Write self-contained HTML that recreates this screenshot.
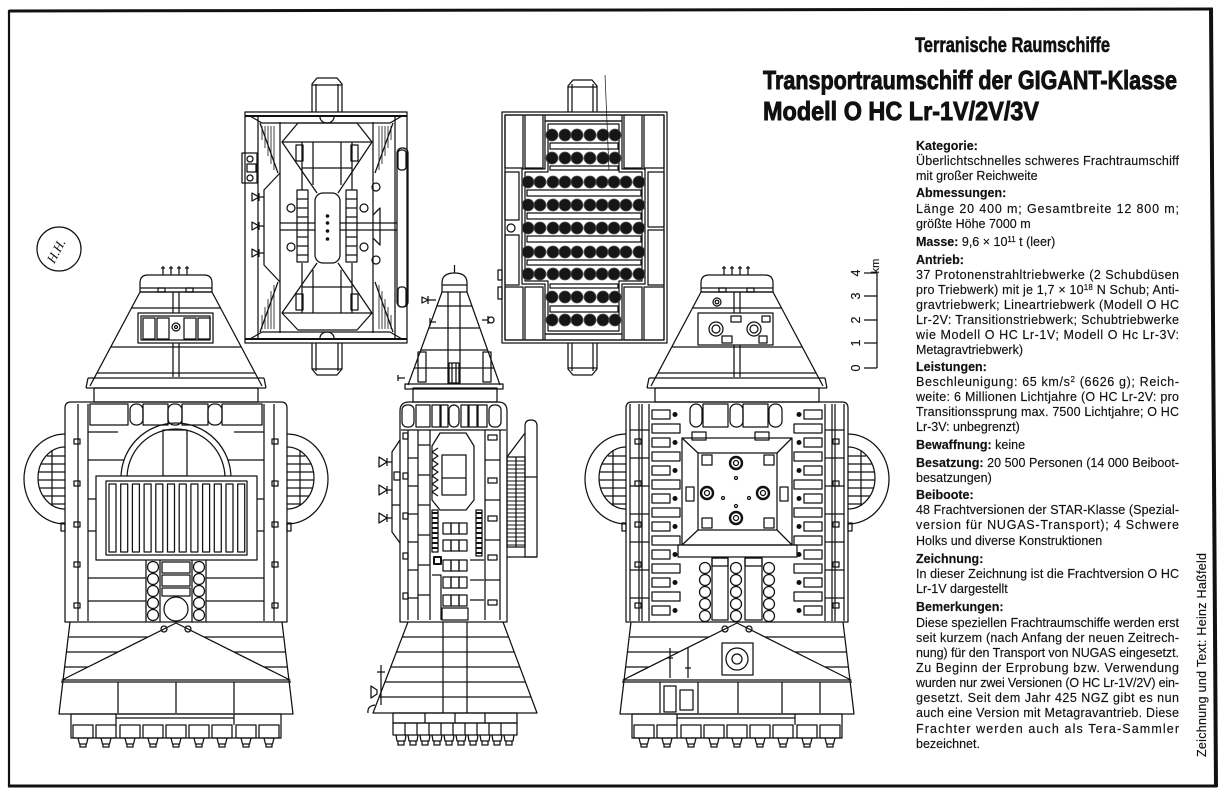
<!DOCTYPE html>
<html><head><meta charset="utf-8"><style>
html,body{margin:0;padding:0;background:#fff;}
svg{display:block;}
.t{font-family:"Liberation Sans",Arial,sans-serif;font-size:12.5px;fill:#111;stroke:#111;stroke-width:0.15;}
.b{font-weight:bold;}
.h{font-family:"Liberation Sans Narrow","Liberation Sans",sans-serif;font-weight:bold;fill:#111;stroke:#111;}
</style></head><body>
<svg width="1224" height="797" viewBox="0 0 1224 797" xmlns="http://www.w3.org/2000/svg">
<rect width="1224" height="797" fill="#fff"/>
<defs>
<g id="ring">
<path d="M-111 434A41 45 0 0 0 -111 524"/>
<path d="M-111 447A27 31 0 0 0 -111 509"/>
<path d="M-129 456H-111M-135 464H-111M-137.5 472H-111M-138 480H-111M-136.5 488H-111M-133 496H-111M-125 504H-111M-124 450V506"/>
</g>
<g id="shell">
<path d="M-13 275V266M-5 275V266M3 275V266M11 275V266M-15 268h4M-7 268h4M1 268h4M9 268h4"/>
<path d="M-36 292V283Q-36 275 -28 275H28Q36 275 36 283V292Z"/>
<path d="M-36 288H36"/>
<rect x="-18" y="288" width="7" height="4"/><rect x="10" y="288" width="7" height="4"/>
<path d="M-36 292L-86 386M36 292L86 386"/>
<path d="M-36 292H36M-44.5 308H44.5M-65 347H65M-79 373H79"/>
<path d="M-3 292V377M3 292V377"/>
<path d="M-88 378H88M-90 388H90M-88 378L-90 388M88 378L90 388"/>
<rect x="-82" y="388" width="164" height="14"/>
<path d="M-111 622V408Q-111 402 -105 402H105Q111 402 111 408V622Z"/>
<path d="M-98 404V621M-88 404V621M88 404V621M98 404V621"/>
<rect x="-102" y="439" width="6" height="5"/><rect x="-102" y="481" width="6" height="5"/><rect x="-102" y="522" width="6" height="5"/><rect x="-102" y="562" width="6" height="5"/><rect x="-102" y="603" width="6" height="5"/>
<rect x="96" y="439" width="6" height="5"/><rect x="96" y="481" width="6" height="5"/><rect x="96" y="522" width="6" height="5"/><rect x="96" y="562" width="6" height="5"/><rect x="96" y="603" width="6" height="5"/>
<rect x="-115" y="523" width="4" height="8"/><rect x="111" y="523" width="4" height="8"/>
<use href="#ring"/>
<use href="#ring" transform="scale(-1,1)"/>
<path d="M-106 622L-117 714H117L106 622"/>
<path d="M-107 637H107M-109 652H109M-111 667H111M-115 682H115"/>
<path d="M-114 680L0 623L114 680Z" fill="#fff"/>
<circle cx="-12" cy="629" r="3"/><circle cx="12" cy="629" r="3"/>
<rect x="-105" y="714" width="210" height="24"/>
<path d="M-60 714V725M58 714V725M-60 718H58"/>
<rect x="-103" y="725" width="20" height="13"/><rect x="-80" y="725" width="20" height="13"/><rect x="-56" y="725" width="20" height="13"/><rect x="-33" y="725" width="20" height="13"/><rect x="-10" y="725" width="20" height="13"/><rect x="13" y="725" width="20" height="13"/><rect x="36" y="725" width="20" height="13"/><rect x="60" y="725" width="20" height="13"/><rect x="83" y="725" width="20" height="13"/>
<path d="M-98 738L-96.5 744H-89.5L-88 738M-96 744V747H-90V744M-75 738L-73.5 744H-66.5L-65 738M-73 744V747H-67V744M-51 738L-49.5 744H-42.5L-41 738M-49 744V747H-43V744M-28 738L-26.5 744H-19.5L-18 738M-26 744V747H-20V744M-5 738L-3.5 744H3.5L5 738M-3 744V747H3V744M18 738L19.5 744H26.5L28 738M20 744V747H26V744M41 738L42.5 744H49.5L51 738M43 744V747H49V744M65 738L66.5 744H73.5L75 738M67 744V747H73V744M88 738L89.5 744H96.5L98 738M90 744V747H96V744"/>
</g>
</defs>

<g fill="none" stroke="#111" stroke-width="1.25" stroke-linejoin="round">
<!-- borders -->
<line x1="9" y1="11" x2="1213" y2="9" stroke-width="3"/>
<line x1="9" y1="10" x2="9" y2="787" stroke-width="2.2"/>
<line x1="8" y1="786" x2="1217" y2="786" stroke-width="3"/>
<line x1="1211" y1="8" x2="1216" y2="787" stroke-width="4"/>

<!-- signature -->
<circle cx="59" cy="249" r="22"/>

<!-- LEFT SHIP (front) -->
<g transform="translate(176,0)">
<use href="#shell"/>
<rect x="-38" y="313" width="75" height="30" fill="#fff"/>
<rect x="-35" y="316" width="69" height="24"/>
<rect x="-33" y="318" width="12" height="21"/><rect x="-19" y="318" width="12" height="21"/>
<rect x="8" y="318" width="12" height="21"/><rect x="22" y="318" width="12" height="21"/>
<circle cx="0" cy="327" r="4"/><circle cx="0" cy="327" r="1.5"/>
<rect x="-86" y="404" width="38" height="21"/>
<rect x="-46" y="404" width="13" height="21" rx="6"/>
<rect x="-33" y="404" width="25" height="21"/>
<rect x="-8" y="404" width="14" height="21" rx="6"/>
<rect x="6" y="404" width="26" height="21"/>
<rect x="32" y="404" width="14" height="21" rx="6"/>
<rect x="46" y="404" width="40" height="21"/>
<path d="M-55 478A55 55 0 0 1 55 478"/>
<path d="M-49 478A49 49 0 0 1 49 478"/>
<rect x="-13" y="430" width="24" height="46"/>
<path d="M-88 432H-58M58 432H88M-88 460H-52M52 460H88M-88 578H-30M30 578H88M-88 601H-30M30 601H88M-88 499H-80M80 499H88M-88 531H-80M80 531H88"/>
<rect x="-80" y="476" width="161" height="84" fill="#fff"/>
<rect x="-70" y="481" width="141" height="74"/>
<rect x="-67" y="484" width="7" height="68"/><rect x="-55.3" y="484" width="7" height="68"/><rect x="-43.6" y="484" width="7" height="68"/><rect x="-31.9" y="484" width="7" height="68"/><rect x="-20.2" y="484" width="7" height="68"/><rect x="-8.5" y="484" width="7" height="68"/><rect x="3.2" y="484" width="7" height="68"/><rect x="14.9" y="484" width="7" height="68"/><rect x="26.6" y="484" width="7" height="68"/><rect x="38.3" y="484" width="7" height="68"/><rect x="50" y="484" width="7" height="68"/><rect x="61.7" y="484" width="7" height="68"/>
<path d="M-30 560V622M-16 560V622M16 560V622M30 560V622"/>
<circle cx="-23" cy="567" r="5.5"/><circle cx="-23" cy="579" r="5.5"/><circle cx="-23" cy="591" r="5.5"/><circle cx="-23" cy="603" r="5.5"/><circle cx="-23" cy="615" r="5.5"/>
<circle cx="23" cy="567" r="5.5"/><circle cx="23" cy="579" r="5.5"/><circle cx="23" cy="591" r="5.5"/><circle cx="23" cy="603" r="5.5"/><circle cx="23" cy="615" r="5.5"/>
<rect x="-14" y="562" width="28" height="11"/><rect x="-14" y="575" width="28" height="11"/><rect x="-14" y="588" width="28" height="8"/>
<circle cx="0" cy="609" r="12"/>
<path d="M-58 682V713M0 682V713M58 682V713"/>
</g>

<!-- RIGHT SHIP (back) -->
<g transform="translate(737,0)">
<use href="#shell"/>
<circle cx="-20" cy="302" r="4"/><circle cx="-20" cy="302" r="1.8"/>
<rect x="-39" y="313" width="75" height="32" fill="#fff"/>
<circle cx="-21" cy="329" r="7"/><circle cx="-21" cy="329" r="4"/>
<circle cx="17" cy="329" r="7"/><circle cx="17" cy="329" r="4"/>
<rect x="-6" y="316" width="10" height="6"/><rect x="25" y="316" width="8" height="6"/><rect x="-15" y="336" width="10" height="7"/><rect x="22" y="336" width="8" height="7"/>
<path d="M-107 404V621M-95 404V621M95 404V621M107 404V621"/>
<path d="M-107 430H-88M-107 458H-88M-107 486H-88M-107 514H-88M-107 542H-88M-107 570H-88M-107 598H-88M88 430H107M88 458H107M88 486H107M88 514H107M88 542H107M88 570H107M88 598H107"/>
<rect x="-47" y="404" width="12" height="23" rx="6"/><rect x="-34" y="404" width="25" height="23"/><rect x="-7" y="404" width="13" height="23" rx="6"/><rect x="6" y="404" width="25" height="23"/><rect x="32" y="404" width="13" height="23" rx="6"/>
<g>
<rect x="-85" y="410" width="18" height="9"/><rect x="-85" y="424" width="28" height="9"/>
<rect x="-85" y="438" width="18" height="9"/><rect x="-85" y="452" width="28" height="9"/>
<rect x="-85" y="466" width="18" height="9"/><rect x="-85" y="480" width="28" height="9"/>
<rect x="-85" y="494" width="18" height="9"/><rect x="-85" y="508" width="28" height="9"/>
<rect x="-85" y="522" width="18" height="9"/><rect x="-85" y="536" width="28" height="9"/>
<rect x="-85" y="550" width="18" height="9"/><rect x="-85" y="564" width="28" height="9"/>
<rect x="-85" y="578" width="18" height="9"/><rect x="-85" y="592" width="28" height="9"/>
<rect x="-85" y="606" width="18" height="9"/>
<rect x="67" y="410" width="18" height="9"/><rect x="57" y="424" width="28" height="9"/>
<rect x="67" y="438" width="18" height="9"/><rect x="57" y="452" width="28" height="9"/>
<rect x="67" y="466" width="18" height="9"/><rect x="57" y="480" width="28" height="9"/>
<rect x="67" y="494" width="18" height="9"/><rect x="57" y="508" width="28" height="9"/>
<rect x="67" y="522" width="18" height="9"/><rect x="57" y="536" width="28" height="9"/>
<rect x="67" y="550" width="18" height="9"/><rect x="57" y="564" width="28" height="9"/>
<rect x="67" y="578" width="18" height="9"/><rect x="57" y="592" width="28" height="9"/>
<rect x="67" y="606" width="18" height="9"/>
</g>
<g fill="#111" stroke="none">
<circle cx="-62" cy="414.5" r="2.5"/><circle cx="-62" cy="442.5" r="2.5"/><circle cx="-62" cy="470.5" r="2.5"/><circle cx="-62" cy="498.5" r="2.5"/><circle cx="-62" cy="526.5" r="2.5"/><circle cx="-62" cy="554.5" r="2.5"/><circle cx="-62" cy="582.5" r="2.5"/><circle cx="-62" cy="610.5" r="2.5"/>
<circle cx="62" cy="414.5" r="2.5"/><circle cx="62" cy="442.5" r="2.5"/><circle cx="62" cy="470.5" r="2.5"/><circle cx="62" cy="498.5" r="2.5"/><circle cx="62" cy="526.5" r="2.5"/><circle cx="62" cy="554.5" r="2.5"/><circle cx="62" cy="582.5" r="2.5"/><circle cx="62" cy="610.5" r="2.5"/>
</g>
<rect x="-45" y="432" width="14" height="8"/><rect x="18" y="432" width="14" height="8"/>
<rect x="-55" y="438" width="110" height="107"/>
<rect x="-39" y="453" width="79" height="77"/>
<path d="M-55 438L-39 453M55 438L40 453M-55 545L-39 530M55 545L40 530"/>
<rect x="-35" y="455" width="10" height="10"/><rect x="27" y="455" width="10" height="10"/><rect x="-35" y="518" width="10" height="10"/><rect x="27" y="518" width="10" height="10"/>
<rect x="-51" y="487" width="8" height="14"/><rect x="43" y="487" width="8" height="14"/>
<g stroke-width="2.4"><circle cx="-1" cy="463" r="6"/><circle cx="-30" cy="493" r="6"/><circle cx="26" cy="493" r="6"/><circle cx="-1" cy="518" r="6"/></g>
<circle cx="-1" cy="463" r="2.5"/><circle cx="-30" cy="493" r="2.5"/><circle cx="26" cy="493" r="2.5"/><circle cx="-1" cy="518" r="2.5"/>
<circle cx="-1" cy="478" r="1.5"/><circle cx="-14" cy="498" r="1.5"/><circle cx="12" cy="498" r="1.5"/><circle cx="-1" cy="506" r="1.5"/>
<rect x="-59" y="545" width="119" height="12"/>
<rect x="-25" y="558" width="16" height="62"/><rect x="8" y="558" width="17" height="62"/>
<rect x="-25" y="558" width="16" height="8"/><rect x="8" y="558" width="17" height="8"/>
<circle cx="-32" cy="568" r="5.5"/><circle cx="-32" cy="580" r="5.5"/><circle cx="-32" cy="592" r="5.5"/><circle cx="-32" cy="604" r="5.5"/><circle cx="-32" cy="616" r="5.5"/>
<circle cx="-1" cy="568" r="5.5"/><circle cx="-1" cy="580" r="5.5"/><circle cx="-1" cy="592" r="5.5"/><circle cx="-1" cy="604" r="5.5"/><circle cx="-1" cy="616" r="5.5"/>
<circle cx="32" cy="568" r="5.5"/><circle cx="32" cy="580" r="5.5"/><circle cx="32" cy="592" r="5.5"/><circle cx="32" cy="604" r="5.5"/><circle cx="32" cy="616" r="5.5"/>
<rect x="-15" y="643" width="31" height="32"/><circle cx="0" cy="659" r="11"/><circle cx="0" cy="659" r="5"/>
<path d="M-67 648V678M-49 648V678M-70 658H-64M-52 668H-46"/>
<path d="M-77 682V713M-39 682V713M1 682V713M45 682V713M83 682V713"/>
<rect x="-73" y="686" width="12" height="26"/><rect x="-57" y="690" width="13" height="20"/>
</g>

<!-- MIDDLE SIDE VIEW -->
<path d="M442 292V283Q442 273 454.5 273Q467 273 467 283V292"/>
<path d="M454.5 273V265M442 285H467"/>
<path d="M442 292L408 385M467 292L500 385M442 292H467"/>
<rect x="405" y="384" width="98" height="5"/>
<path d="M448 292V384M460 292V384"/>
<path d="M437 306H472M429 328H479M421 350H488M414 368H494"/>
<rect x="418" y="352" width="8" height="30"/><rect x="483" y="352" width="8" height="30"/>
<rect x="449" y="363" width="10" height="20"/><path d="M452 363V383M456 363V383"/>
<path d="M436 300H428M428 296V304M428 300L422 297V303Z"/>
<path d="M482 320H488M488 316V324"/><circle cx="491" cy="320" r="3"/>
<path d="M436 322H430M430 318V326"/>
<path d="M405 378H398M398 375V381"/>
<rect x="413" y="388" width="84" height="14"/>
<path d="M400 622V411Q400 402 409 402H498Q507 402 507 411V622Z"/>
<path d="M401 430H506"/>
<rect x="402" y="405" width="12" height="22" rx="5"/><rect x="416" y="405" width="14" height="22"/><rect x="432" y="405" width="8" height="22"/><rect x="441" y="405" width="7" height="22"/><rect x="449" y="405" width="10" height="22" rx="5"/><rect x="461" y="405" width="7" height="22"/><rect x="469" y="405" width="8" height="22"/><rect x="478" y="405" width="9" height="22"/><rect x="489" y="405" width="12" height="22" rx="5"/>
<path d="M408 430V620M418 430V620M430 430V620M485 430V620M500 430V620"/>
<path d="M408 458H418M408 486H418M408 514H418M408 542H418M408 570H418M408 598H418M418 445H430M418 475H430M418 505H430M418 535H430M418 565H430M418 595H430"/>
<rect x="403" y="433" width="5" height="6"/><rect x="403" y="473" width="5" height="6"/><rect x="403" y="513" width="5" height="6"/><rect x="403" y="553" width="5" height="6"/><rect x="403" y="593" width="5" height="6"/>
<path d="M440 433H466L474 446V500L466 510H440L432 500V446Z"/>
<rect x="442" y="455" width="24" height="40"/><path d="M442 478H466"/>
<path d="M438 448L432 452L438 456L432 460L438 464L432 468L438 472L432 476L438 480L432 484L438 488L432 492L438 496"/>
<g stroke-width="2"><path d="M432 513H438M432 518H438M432 523H438M432 528H438M432 533H438M432 538H438M432 543H438M432 548H438M476 513H482M476 518H482M476 523H482M476 528H482M476 533H482M476 538H482M476 543H482M476 548H482M476 553H482"/></g>
<rect x="432" y="510" width="6" height="42"/><rect x="476" y="510" width="6" height="46"/>
<rect x="434" y="557" width="7" height="7" stroke-width="2"/>
<path d="M432 575H441V620M470 560H484M470 580H484M470 600H484"/>
<rect x="443" y="523" width="8" height="11"/><rect x="451" y="523" width="8" height="11"/><rect x="459" y="523" width="8" height="11"/>
<rect x="443" y="540" width="8" height="11"/><rect x="451" y="540" width="8" height="11"/><rect x="459" y="540" width="8" height="11"/>
<rect x="443" y="560" width="8" height="11"/><rect x="451" y="560" width="8" height="11"/><rect x="459" y="560" width="8" height="11"/>
<rect x="443" y="577" width="8" height="11"/><rect x="451" y="577" width="8" height="11"/><rect x="459" y="577" width="8" height="11"/>
<rect x="443" y="595" width="8" height="11"/><rect x="451" y="595" width="8" height="11"/><rect x="459" y="595" width="8" height="11"/>
<rect x="442" y="608" width="26" height="12"/>
<rect x="488" y="435" width="9" height="5"/><rect x="488" y="478" width="9" height="5"/><rect x="488" y="516" width="9" height="5"/><rect x="488" y="555" width="9" height="5"/><rect x="488" y="600" width="9" height="5"/>
<path d="M485 460H500M485 500H500M485 540H500M485 580H500"/>
<path d="M400 440L392 452V532L400 543"/>
<path d="M392 462H387M387 458V466M387 462L379 457V467Z"/>
<path d="M392 490H387M387 486V494M387 490L379 485V495Z"/>
<path d="M392 518H387M387 514V522M387 518L379 513V523Z"/>
<rect x="394" y="472" width="6" height="8"/><path d="M392 505H400"/>
<path d="M507 457L525 433"/>
<path d="M525 557V426Q525 420 531 420Q537 420 537 426V557Z"/>
<path d="M525 477H537M507 557H537"/>
<rect x="507" y="457" width="18" height="90"/><path d="M516 457V547"/>
<path d="M507 461H525M507 465H525M507 469H525M507 473H525M507 477H525M507 481H525M507 485H525M507 489H525M507 493H525M507 497H525M507 501H525M507 505H525M507 509H525M507 513H525M507 517H525M507 521H525M507 525H525M507 529H525M507 533H525M507 537H525M507 541H525M507 545H525" stroke-width="0.9"/>
<path d="M408 622L373 713H537L503 622"/>
<path d="M402 637H509M396.5 652H514M391 667H520M385 682H525M379 697H531"/>
<path d="M443 622V713M467 622V713"/>
<path d="M381 665V705M377 672H385M377 690L371 686V698L377 694Z"/>
<path d="M375 705Q367 706 368 713"/>
<rect x="393" y="713" width="124" height="10"/>
<rect x="393" y="723" width="124" height="12"/>
<path d="M405 723V735M417 723V735M429 723V735M441 723V735M453 723V735M465 723V735M477 723V735M489 723V735M501 723V735M425 713V723M455 713V723M485 713V723"/>
<path d="M396 735L397 741H405L406 735M408 735L409 741H417L418 735M420 735L421 741H429L430 735M432 735L433 741H441L442 735M444 735L445 741H453L454 735M456 735L457 741H465L466 735M468 735L469 741H477L478 735M480 735L481 741H489L490 735M492 735L493 741H501L502 735M504 735L505 741H513L514 735"/>
<path d="M398 741V745H404V741M410 741V745H416V741M422 741V745H428V741M434 741V745H440V741M446 741V745H452V741M458 741V745H464V741M470 741V745H476V741M482 741V745H488V741M494 741V745H500V741M506 741V745H512V741"/>

<!-- TOP-LEFT PLAN VIEW -->
<path d="M312 112V84L317 78H337L342 84V112M316 112V84M338 112V84M312 85H342"/>
<path d="M312 343V369L317 375H337L342 369V343M316 343V371M338 343V371M312 369H342"/>
<path d="M320 117A7 6 0 0 0 334 117M320 338A7 6 0 0 1 334 338"/>
<rect x="245" y="112" width="162" height="231"/>
<path d="M245 116H407M245 339H407" stroke-width="2"/>
<path d="M258 116V339M280 122V333M373 122V333M395 116V339"/>
<path d="M250 116L262 123H390L402 116M250 339L262 332H390L402 339"/>
<path d="M260 123L278 173M260 332L278 282M393 123L375 173M393 332L375 282"/>
<path d="M262 126V140M265 126V148M268 126V156M271 126V164M274 126V170M262 329V315M265 329V307M268 329V299M271 329V291M274 329V285M391 126V140M388 126V148M385 126V156M382 126V164M379 126V170M391 329V315M388 329V307M385 329V299M382 329V291M379 329V285" stroke-width="0.8"/>
<path d="M282 142L298 123H357L372 142Z"/>
<path d="M282 313L298 330H357L372 313Z"/>
<path d="M282 142L317 193M372 142L338 193M282 313L317 263M372 313L338 263"/>
<rect x="315" y="193" width="25" height="70" rx="8"/>
<g fill="#111" stroke="none"><circle cx="327.5" cy="216" r="1.8"/><circle cx="327.5" cy="223" r="1.8"/><circle cx="327.5" cy="231" r="1.8"/><circle cx="327.5" cy="239" r="1.8"/></g>
<path d="M280 223H315M340 223H397M280 230H315M340 230H397"/>
<rect x="297" y="190" width="11" height="72"/><rect x="346" y="190" width="11" height="72"/>
<path d="M297 199H308M297 208H308M297 217H308M297 237H308M297 246H308M297 255H308M346 199H357M346 208H357M346 217H357M346 237H357M346 246H357M346 255H357"/>
<rect x="296" y="145" width="7" height="16"/><rect x="351" y="145" width="7" height="16"/>
<rect x="296" y="294" width="7" height="16"/><rect x="351" y="294" width="7" height="16"/>
<path d="M302 142V190M352 142V190M302 263V313M352 263V313M313 142V185M341 142V185M313 270V313M341 270V313M302 168H352M302 287H352"/>
<circle cx="291" cy="208" r="4"/><circle cx="291" cy="247" r="4"/><circle cx="364" cy="208" r="4"/><circle cx="364" cy="247" r="4"/>
<rect x="242" y="153" width="15" height="30"/><circle cx="250" cy="159" r="3"/><circle cx="250" cy="178" r="3"/><rect x="247" y="164" width="9" height="8"/>
<path d="M280 173L264 190V265L280 282"/>
<path d="M264 197H259M259 193V201M259 197L252 193V201Z"/>
<path d="M264 226H259M259 222V230M259 226L252 222V230Z"/>
<path d="M264 253H259M259 249V257M259 253L252 249V257Z"/>
<rect x="397" y="148" width="11" height="159" rx="5"/>
<rect x="398" y="150" width="8" height="20" rx="3"/><rect x="398" y="287" width="8" height="20" rx="3"/>
<circle cx="376" cy="187" r="4"/><circle cx="376" cy="260" r="4"/>
<path d="M373 215L380 208V245L373 238"/>

<!-- TOP-RIGHT PLAN VIEW -->
<path d="M568 112V86L573 80H592L597 86V112M572 112V84M593 112V84M568 87H597"/>
<path d="M568 343V369L573 375H592L597 369V343M572 343V371M593 343V371M568 368H597"/>
<rect x="502" y="112" width="165" height="231"/>
<rect x="505" y="115" width="159" height="225"/>
<path d="M545 121H622V169H645V284H622V334H545V284H522V169H545Z"/>
<path d="M548 124H619V172H642V281H619V331H548V281H525V172H548Z"/>
<rect x="545" y="115" width="77" height="6"/><rect x="545" y="334" width="77" height="6"/>
<rect x="505" y="115" width="18" height="53"/><rect x="525" y="115" width="18" height="53"/>
<rect x="624" y="115" width="18" height="53"/><rect x="644" y="115" width="20" height="53"/>
<rect x="505" y="287" width="18" height="53"/><rect x="525" y="287" width="18" height="53"/>
<rect x="624" y="287" width="18" height="53"/><rect x="644" y="287" width="20" height="53"/>
<rect x="505" y="172" width="14" height="48"/><rect x="505" y="235" width="14" height="50"/><circle cx="511" cy="228" r="4"/>
<rect x="648" y="172" width="16" height="55"/><rect x="648" y="230" width="16" height="55"/>
<rect x="498" y="270" width="4" height="10"/><rect x="498" y="287" width="4" height="12"/>
<rect x="550" y="143" width="68" height="6"/><rect x="550" y="166" width="68" height="4"/>
<rect x="527" y="190" width="114" height="6"/><rect x="527" y="213" width="114" height="6"/><rect x="527" y="236" width="114" height="6"/><rect x="527" y="260" width="114" height="5"/>
<rect x="550" y="284" width="68" height="4"/><rect x="550" y="306" width="68" height="6"/>
<g fill="#161616" stroke="#555" stroke-width="0.8">
<circle cx="552" cy="135" r="6"/><circle cx="565" cy="135" r="6"/><circle cx="577" cy="135" r="6"/><circle cx="590" cy="135" r="6"/><circle cx="603" cy="135" r="6"/><circle cx="615" cy="135" r="6"/>
<circle cx="552" cy="158" r="6"/><circle cx="565" cy="158" r="6"/><circle cx="577" cy="158" r="6"/><circle cx="590" cy="158" r="6"/><circle cx="603" cy="158" r="6"/><circle cx="615" cy="158" r="6"/>
<circle cx="528" cy="182" r="6"/><circle cx="540" cy="182" r="6"/><circle cx="553" cy="182" r="6"/><circle cx="565" cy="182" r="6"/><circle cx="577" cy="182" r="6"/><circle cx="590" cy="182" r="6"/><circle cx="602" cy="182" r="6"/><circle cx="614" cy="182" r="6"/><circle cx="626" cy="182" r="6"/><circle cx="639" cy="182" r="6"/>
<circle cx="528" cy="205" r="6"/><circle cx="540" cy="205" r="6"/><circle cx="553" cy="205" r="6"/><circle cx="565" cy="205" r="6"/><circle cx="577" cy="205" r="6"/><circle cx="590" cy="205" r="6"/><circle cx="602" cy="205" r="6"/><circle cx="614" cy="205" r="6"/><circle cx="626" cy="205" r="6"/><circle cx="639" cy="205" r="6"/>
<circle cx="528" cy="228" r="6"/><circle cx="540" cy="228" r="6"/><circle cx="553" cy="228" r="6"/><circle cx="565" cy="228" r="6"/><circle cx="577" cy="228" r="6"/><circle cx="590" cy="228" r="6"/><circle cx="602" cy="228" r="6"/><circle cx="614" cy="228" r="6"/><circle cx="626" cy="228" r="6"/><circle cx="639" cy="228" r="6"/>
<circle cx="528" cy="252" r="6"/><circle cx="540" cy="252" r="6"/><circle cx="553" cy="252" r="6"/><circle cx="565" cy="252" r="6"/><circle cx="577" cy="252" r="6"/><circle cx="590" cy="252" r="6"/><circle cx="602" cy="252" r="6"/><circle cx="614" cy="252" r="6"/><circle cx="626" cy="252" r="6"/><circle cx="639" cy="252" r="6"/>
<circle cx="528" cy="274" r="6"/><circle cx="540" cy="274" r="6"/><circle cx="553" cy="274" r="6"/><circle cx="565" cy="274" r="6"/><circle cx="577" cy="274" r="6"/><circle cx="590" cy="274" r="6"/><circle cx="602" cy="274" r="6"/><circle cx="614" cy="274" r="6"/><circle cx="626" cy="274" r="6"/><circle cx="639" cy="274" r="6"/>
<circle cx="552" cy="297" r="6"/><circle cx="565" cy="297" r="6"/><circle cx="577" cy="297" r="6"/><circle cx="590" cy="297" r="6"/><circle cx="603" cy="297" r="6"/><circle cx="615" cy="297" r="6"/>
<circle cx="552" cy="320" r="6"/><circle cx="565" cy="320" r="6"/><circle cx="577" cy="320" r="6"/><circle cx="590" cy="320" r="6"/><circle cx="603" cy="320" r="6"/><circle cx="615" cy="320" r="6"/>
</g>
<path d="M605 75L609 170" stroke-width="0.7"/>

<!-- scale bar -->
<path d="M877 273V368M864 368H877M864 343H877M864 320H877M864 296H877M864 273H877"/>
</g>

<!-- scale numbers -->
<g class="t" font-size="13">
<text transform="translate(860,368) rotate(-90)" text-anchor="middle">0</text>
<text transform="translate(860,343) rotate(-90)" text-anchor="middle">1</text>
<text transform="translate(860,320) rotate(-90)" text-anchor="middle">2</text>
<text transform="translate(860,296) rotate(-90)" text-anchor="middle">3</text>
<text transform="translate(860,273) rotate(-90)" text-anchor="middle">4</text>
<text transform="translate(879,266) rotate(-90)" text-anchor="middle" font-size="11">km</text>
</g>

<!-- signature -->
<text transform="translate(60,253) rotate(-62)" text-anchor="middle" font-family="Liberation Serif, serif" font-style="italic" font-size="13" fill="#111">H.H.</text>

<!-- titles -->
<text class="h" x="915" y="52" font-size="21" stroke-width="0.6" textLength="195" lengthAdjust="spacingAndGlyphs">Terranische Raumschiffe</text>
<text class="h" x="763" y="89" font-size="26" stroke-width="0.9" textLength="414" lengthAdjust="spacingAndGlyphs">Transportraumschiff der GIGANT-Klasse</text>
<text class="h" x="763" y="120" font-size="26" stroke-width="0.9" textLength="276" lengthAdjust="spacingAndGlyphs">Modell  O HC Lr-1V/2V/3V</text>

<!-- body text -->
<g class="t">
<text class="b" x="916" y="150">Kategorie:</text>
<text x="916" y="165" textLength="263" lengthAdjust="spacing">Überlichtschnelles schweres Frachtraumschiff</text>
<text x="916" y="180">mit großer Reichweite</text>
<text class="b" x="916" y="197">Abmessungen:</text>
<text x="916" y="213" textLength="263" lengthAdjust="spacing">Länge 20 400 m; Gesamtbreite 12 800 m;</text>
<text x="916" y="228">größte Höhe 7000 m</text>
<text x="916" y="246"><tspan font-weight="bold">Masse:</tspan> 9,6 × 10<tspan font-size="8" dy="-4">11</tspan><tspan dy="4"> t (leer)</tspan></text>
<text class="b" x="916" y="264">Antrieb:</text>
<text x="916" y="279" textLength="263" lengthAdjust="spacing">37 Protonenstrahltriebwerke (2 Schubdüsen</text>
<text x="916" y="294" textLength="263" lengthAdjust="spacing">pro Triebwerk) mit je 1,7 × 10<tspan font-size="8" dy="-4">18</tspan><tspan dy="4"> N Schub; Anti-</tspan></text>
<text x="916" y="309" textLength="263" lengthAdjust="spacing">gravtriebwerk; Lineartriebwerk (Modell O HC</text>
<text x="916" y="324" textLength="263" lengthAdjust="spacing">Lr-2V: Transitionstriebwerk; Schubtriebwerke</text>
<text x="916" y="339" textLength="263" lengthAdjust="spacing">wie Modell O HC Lr-1V; Modell O Hc Lr-3V:</text>
<text x="916" y="354">Metagravtriebwerk)</text>
<text class="b" x="916" y="371">Leistungen:</text>
<text x="916" y="386" textLength="263" lengthAdjust="spacing">Beschleunigung: 65 km/s<tspan font-size="8" dy="-4">2</tspan><tspan dy="4"> (6626 g); Reich-</tspan></text>
<text x="916" y="401" textLength="263" lengthAdjust="spacing">weite: 6 Millionen Lichtjahre (O HC Lr-2V: pro</text>
<text x="916" y="416" textLength="263" lengthAdjust="spacing">Transitionssprung max. 7500 Lichtjahre; O HC</text>
<text x="916" y="431">Lr-3V: unbegrenzt)</text>
<text x="916" y="449"><tspan font-weight="bold">Bewaffnung:</tspan> keine</text>
<text x="916" y="467" textLength="263" lengthAdjust="spacing"><tspan font-weight="bold">Besatzung:</tspan> 20 500 Personen (14 000 Beiboot-</text>
<text x="916" y="482">besatzungen)</text>
<text class="b" x="916" y="499">Beiboote:</text>
<text x="916" y="514" textLength="263" lengthAdjust="spacing">48 Frachtversionen der STAR-Klasse (Spezial-</text>
<text x="916" y="529" textLength="263" lengthAdjust="spacing">version für NUGAS-Transport); 4 Schwere</text>
<text x="916" y="545">Holks und diverse Konstruktionen</text>
<text class="b" x="916" y="563">Zeichnung:</text>
<text x="916" y="578" textLength="263" lengthAdjust="spacing">In dieser Zeichnung ist die Frachtversion O HC</text>
<text x="916" y="593">Lr-1V dargestellt</text>
<text class="b" x="916" y="611">Bemerkungen:</text>
<text x="916" y="627" textLength="263" lengthAdjust="spacing">Diese speziellen Frachtraumschiffe werden erst</text>
<text x="916" y="642" textLength="263" lengthAdjust="spacing">seit kurzem (nach Anfang der neuen Zeitrech-</text>
<text x="916" y="657" textLength="263" lengthAdjust="spacing">nung) für den Transport von NUGAS eingesetzt.</text>
<text x="916" y="672" textLength="263" lengthAdjust="spacing">Zu Beginn der Erprobung bzw. Verwendung</text>
<text x="916" y="687" textLength="263" lengthAdjust="spacing">wurden nur zwei Versionen (O HC Lr-1V/2V) ein-</text>
<text x="916" y="702" textLength="263" lengthAdjust="spacing">gesetzt. Seit dem Jahr 425 NGZ gibt es nun</text>
<text x="916" y="717" textLength="263" lengthAdjust="spacing">auch eine Version mit Metagravantrieb. Diese</text>
<text x="916" y="733" textLength="263" lengthAdjust="spacing">Frachter werden auch als Tera-Sammler</text>
<text x="916" y="748">bezeichnet.</text>
</g>
<text class="t" transform="translate(1206,757) rotate(-90)" font-size="13" textLength="204" lengthAdjust="spacing">Zeichnung und Text: Heinz Haßfeld</text>
</svg>
</body></html>
